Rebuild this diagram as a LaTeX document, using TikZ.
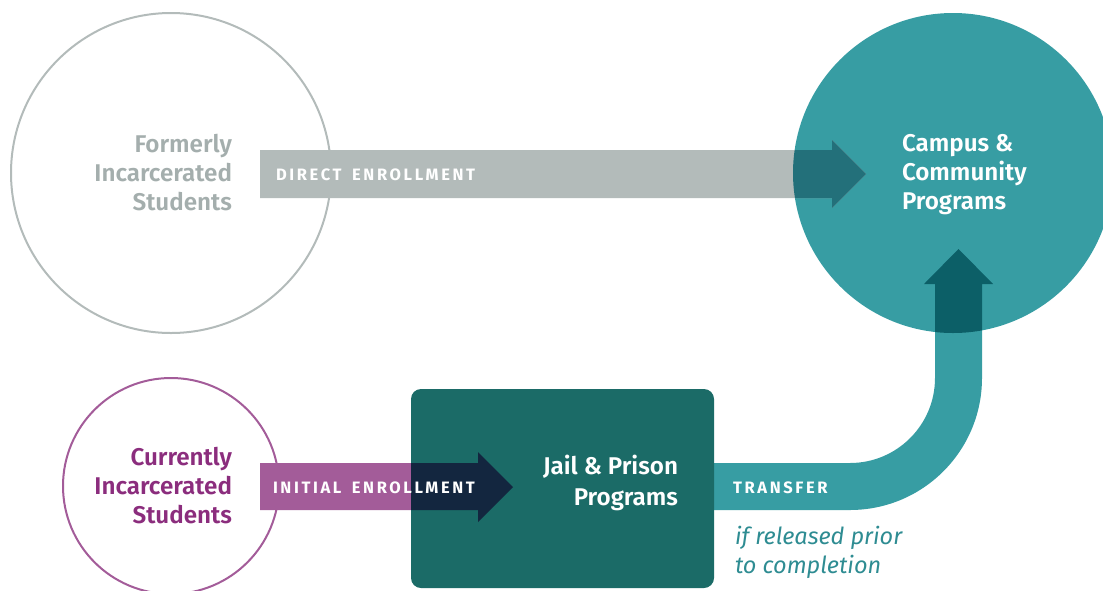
\documentclass[tikz,border=0pt]{standalone}
\usepackage{fontspec}
\setmainfont{Fira Sans}[BoldFont={Fira Sans SemiBold}]
\newfontfamily\capsfont{Fira Sans}[LetterSpace=16,WordSpace=1.6,BoldFont={Fira Sans Bold}]
\usepackage{tikz}
\usetikzlibrary{positioning}
\definecolor{myGray}{HTML}{B3BBBA}
\definecolor{myGrayText}{HTML}{A4AEAD}
\definecolor{myTeal}{HTML}{379DA3}
\definecolor{myTealDark}{HTML}{23707A}
\definecolor{myTealDeep}{HTML}{0C5F67}
\definecolor{myBox}{HTML}{1B6B67}
\definecolor{myNavy}{HTML}{13263F}
\definecolor{myPurple}{HTML}{A35C99}
\definecolor{myPurpleText}{HTML}{8B2D7D}
\definecolor{myNote}{HTML}{2E8C92}

\begin{document}
\begin{tikzpicture}[x=1pt,y=-1pt,
        every node/.style={inner sep=0pt, outer sep=0pt},
        labelText/.style={font=\fontsize{24.2}{29}\selectfont\bfseries, align=right, anchor=east},
        tagText/.style={font=\capsfont\fontsize{16.5}{16.5}\selectfont\bfseries, text=white, anchor=base west},
    ]
    \useasboundingbox (0,0) rectangle (1103,590);

    % draw the circles
    \node[circle, draw=myGray, line width=2pt, minimum size=320pt] (formerly) at (171,173) {};
    \node[circle, draw=myPurple, line width=2pt, minimum size=216pt] (currently) at (171,486) {};
    \node[circle, fill=myTeal, minimum size=320pt] (campus) at (953,173) {};

    % arrow for direct enrollment
    \fill[myGray] (260,150) -- (832,150) -- (832,140) -- (866,174) -- (832,208) -- (832,198) -- (260,198) -- cycle;
    \begin{scope}
        \clip (campus.center) circle[radius=160];
        \fill[myTealDark] (260,150) -- (832,150) -- (832,140) -- (866,174) -- (832,208) -- (832,198) -- (260,198) -- cycle;
    \end{scope}

    % band for transfer
    \fill[myTeal] (714,463) -- (850,463) arc[start angle=90, end angle=0, radius=85] -- (935,284) -- (924,284)
        -- (958.5,249) -- (993,284) -- (982,284) -- (982,378) arc[start angle=0, end angle=90, radius=132]
        -- (714,510) -- cycle;
    \begin{scope}
        \clip (campus.center) circle[radius=160];
        \fill[myTealDeep] (935,380) -- (935,284) -- (924,284) -- (958.5,249) -- (993,284) -- (982,284) -- (982,380) -- cycle;
    \end{scope}

    % arrow for initial enrollment and the box
    \fill[myPurple] (260,463) -- (478,463) -- (478,452) -- (513,487) -- (478,522) -- (478,510) -- (260,510) -- cycle;
    \node[fill=myBox, rounded corners=10pt, minimum width=303pt, minimum height=199pt] (jail) at (562.5,488.5) {};
    \begin{scope}
        \clip (411,389) rectangle (714,588);
        \fill[myNavy] (260,463) -- (478,463) -- (478,452) -- (513,487) -- (478,522) -- (478,510) -- (260,510) -- cycle;
    \end{scope}

    % place the labels
    \node[labelText, text=myGrayText] (formerlyText) at (232,173) {Formerly\\Incarcerated\\Students};
    \node[labelText, text=myPurpleText] (currentlyText) at (232,486) {Currently\\Incarcerated\\Students};
    \node[labelText, text=white, font=\fontsize{24.2}{31}\selectfont\bfseries] (jailText) at (678,483) {Jail \& Prison\\Programs};
    \node[labelText, text=white, align=left, anchor=west] (campusText) at (902,175) {Campus \&\\Community\\Programs};

    \node[tagText] (directTag) at (276,180) {DIRECT ENROLLMENT};
    \node[tagText] (initialTag) at (273,493) {INITIAL ENROLLMENT};
    \node[tagText] (transferTag) at (733,493) {TRANSFER};

    \node[font=\fontsize{23.5}{29}\selectfont\itshape, text=myNote, align=left, anchor=west] (note) at (735,552)
        {if released prior\\to completion};
\end{tikzpicture}
\end{document}
